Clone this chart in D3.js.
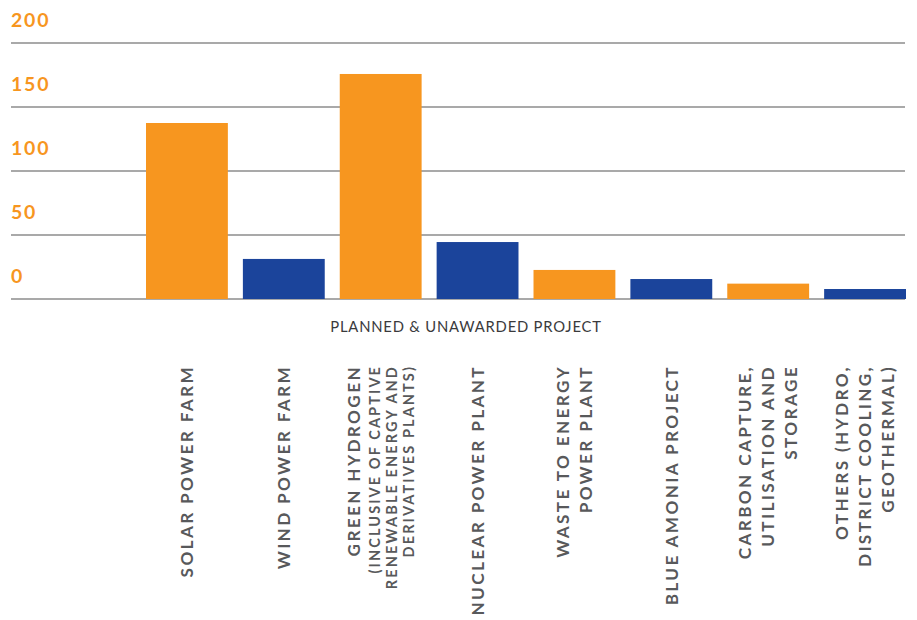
<!DOCTYPE html>
<html>
<head>
<meta charset="utf-8">
<script src="https://cdn.jsdelivr.net/npm/d3@7"></script>
<style>
  html, body { margin: 0; padding: 0; background: #fff; }
  svg { display: block; }
</style>
</head>
<body>
<svg id="chart" width="917" height="620"></svg>
<script>
// ---- data ----
const categories = [
  "Solar Power Farm",
  "Wind Power Farm",
  "Green Hydrogen",
  "Nuclear Power Plant",
  "Waste to Energy Power Plant",
  "Blue Amonia Project",
  "Carbon Capture, Utilisation and Storage",
  "Others"
];
const values = [137.5, 31.3, 175.8, 44.5, 22.7, 15.6, 12, 7.8];
const barColors = ["#F7961F", "#1B449B", "#F7961F", "#1B449B", "#F7961F", "#1B449B", "#F7961F", "#1B449B"];
const yTicks = [0, 50, 100, 150, 200];
const xTitle = "PLANNED & UNAWARDED PROJECT";
// tick label lines: [text, isSmall]
const tickLabels = [
  [["SOLAR POWER FARM", false]],
  [["WIND POWER FARM", false]],
  [["GREEN HYDROGEN", false], ["(INCLUSIVE OF CAPTIVE", true], ["RENEWABLE ENERGY AND", true], ["DERIVATIVES PLANTS)", true]],
  [["NUCLEAR POWER PLANT", false]],
  [["WASTE TO ENERGY", false], ["POWER PLANT", false]],
  [["BLUE AMONIA PROJECT", false]],
  [["CARBON CAPTURE,", false], ["UTILISATION AND", false], ["STORAGE", false]],
  [["OTHERS (HYDRO,", false], ["DISTRICT COOLING,", false], ["GEOTHERMAL)", false]]
];

// ---- chart ----
const svg = d3.select("#chart");
const font = "Lato, 'Open Sans', sans-serif";

const y = d3.scaleLinear().domain([0, 200]).range([299, 43]);
const x = d3.scaleBand().domain(categories).range([146, 906]).paddingInner(0.155).paddingOuter(0);

// gridlines
svg.append("g").selectAll("line").data(yTicks).join("line")
  .attr("x1", 11).attr("x2", 905)
  .attr("y1", d => y(d)).attr("y2", d => y(d))
  .attr("stroke", "#8c8c8c").attr("stroke-width", 1.6);

// y labels
svg.append("g").selectAll("text").data(yTicks).join("text")
  .attr("x", 11).attr("y", d => y(d) - 16)
  .attr("fill", "#F7961F")
  .attr("font-family", font).attr("font-weight", 700)
  .attr("font-size", 19.5).attr("letter-spacing", 1.8)
  .text(d => d);

// bars
svg.append("g").selectAll("rect").data(categories).join("rect")
  .attr("x", d => x(d))
  .attr("y", (d, i) => y(values[i]))
  .attr("width", x.bandwidth())
  .attr("height", (d, i) => y(0) - y(values[i]))
  .attr("fill", (d, i) => barColors[i]);

// x title
svg.append("text")
  .attr("x", 466).attr("y", 332)
  .attr("text-anchor", "middle")
  .attr("fill", "#3a3a3c")
  .attr("font-family", font).attr("font-size", 14.8).attr("letter-spacing", 0.8)
  .text(xTitle);

// category labels (rotated)
const bigSize = 17.2, smallSize = 14.5;
const bigCap = bigSize * 0.72, smallCap = smallSize * 0.72;
categories.forEach((c, i) => {
  const lines = tickLabels[i];
  const offs = [];
  let pos = 0;
  lines.forEach((ln, j) => {
    if (j === 0) pos = 0;
    else if (!ln[1]) pos += 23;
    else if (!lines[j - 1][1]) pos += 20;
    else pos += 17;
    offs.push(pos);
  });
  const firstCap = lines[0][1] ? smallCap : bigCap;
  const left = -firstCap, right = offs[offs.length - 1];
  const shift = -(left + right) / 2;
  const cx = x(c) + x.bandwidth() / 2;
  const g = svg.append("g").attr("transform", `translate(${cx},365) rotate(-90)`);
  lines.forEach((ln, j) => {
    g.append("text")
      .attr("x", 0).attr("y", offs[j] + shift)
      .attr("text-anchor", "end")
      .attr("fill", "#58595B")
      .attr("font-family", font).attr("font-weight", 700)
      .attr("font-size", ln[1] ? smallSize : bigSize)
      .attr("letter-spacing", ln[1] ? 2.1 : 2.35)
      .text(ln[0]);
  });
});
</script>
</body>
</html>
